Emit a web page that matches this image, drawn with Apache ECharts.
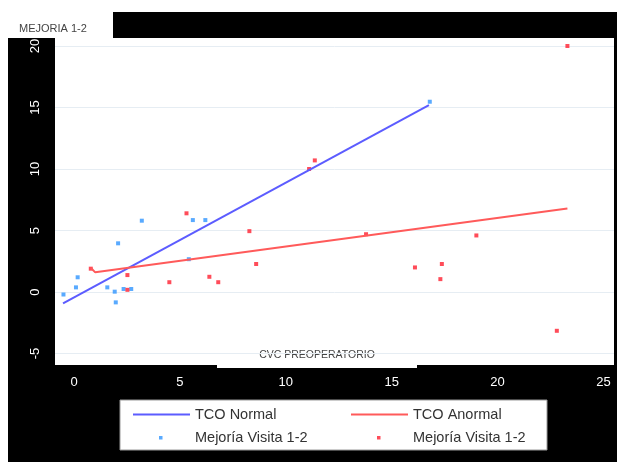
<!DOCTYPE html>
<html>
<head>
<meta charset="utf-8">
<script src="https://cdn.jsdelivr.net/npm/echarts@6/dist/echarts.min.js"></script>
<style>
  html, body { margin: 0; padding: 0; background: #fff; }
  #chart { width: 617px; height: 462px; }
</style>
</head>
<body>
<div id="chart"></div>
<script>
// puntos TCO normal (x = CVC preoperatorio, y = mejoria visita 1-2)
var normalPts = [
  [-0.5, -0.2], [0.17, 1.2], [0.09, 0.38], [1.57, 0.38], [1.92, 0.03],
  [1.97, -0.84], [2.08, 3.96], [2.34, 0.25], [2.7, 0.25], [3.2, 5.8],
  [5.42, 2.67], [5.61, 5.85], [6.2, 5.85], [16.8, 15.47]
];
// puntos TCO anormal
var anormalPts = [
  [0.79, 1.9], [2.52, 1.38], [2.52, 0.18], [4.5, 0.8], [5.31, 6.4],
  [6.39, 1.24], [6.81, 0.8], [8.28, 4.95], [8.6, 2.28], [11.1, 10.0],
  [11.37, 10.7], [13.79, 4.7], [16.1, 2.0], [17.3, 1.05], [17.37, 2.28],
  [19.0, 4.6], [22.8, -3.15], [23.3, 20.0]
];
// rectas de ajuste
var normalFit = [[-0.52, -0.92], [16.76, 15.2]];
var anormalFit = [[0.8, 1.95], [1.0, 1.6], [23.3, 6.8]];
var xTicks = [0, 5, 10, 15, 20, 25];
var yTicks = [-5, 0, 5, 10, 15, 20];

// iconos de leyenda: linea larga y punto pequeño dentro de una caja de 57x5
var lineIcon = 'path://M0,0M57,5M0,1.5h57v2h-57z';
var dotIcon = 'path://M0,0M57,5M26,1h3.5v3.5h-3.5z';

var chart = echarts.init(document.getElementById('chart'));

chart.setOption({
  backgroundColor: '#fff',
  animation: false,
  title: {
    text: 'MEJORIA 1-2',
    left: 14,
    top: 18,
    textStyle: { color: '#444', fontSize: 11, fontWeight: 'normal', fontFamily: 'Liberation Sans' }
  },
  graphic: [
    // fondo negro del marco
    { type: 'rect', z: -10, shape: { x: 8, y: 12, width: 609, height: 450 }, style: { fill: '#000' } },
    { type: 'rect', z: -9, shape: { x: 8, y: 12, width: 105, height: 26 }, style: { fill: '#fff' } },
    // caja del titulo del eje x
    {
      type: 'group', z: 50,
      children: [
        { type: 'rect', shape: { x: 217, y: 343, width: 200, height: 25 }, style: { fill: '#fff' } },
        { type: 'text', x: 317, y: 355, style: { text: 'CVC PREOPERATORIO', fill: '#444', fontSize: 10.5, fontFamily: 'Liberation Sans', align: 'center', verticalAlign: 'middle' } }
      ]
    },
    // caja de la leyenda
    { type: 'rect', z: 40, shape: { x: 120, y: 400, width: 427, height: 50 }, style: { fill: '#fff', stroke: '#999', lineWidth: 1 } }
  ],
  grid: {
    left: 55, right: 3, top: 38, bottom: 97,
    show: true, backgroundColor: '#fff', borderWidth: 0
  },
  legend: [
    {
      data: [{ name: 'TCO Normal', icon: lineIcon }, { name: 'Mejoría Visita 1-2', icon: dotIcon }],
      orient: 'vertical', left: 128, top: 402, z: 60,
      itemWidth: 57, itemHeight: 5, itemGap: 8,
      textStyle: { color: '#333', fontSize: 14.5, fontFamily: 'Liberation Sans' }
    },
    {
      data: [{ name: 'TCO Anormal', icon: lineIcon }, { name: 'Mejoría Visita 1-2 ', icon: dotIcon }],
      orient: 'vertical', left: 346, top: 402, z: 60,
      itemWidth: 57, itemHeight: 5, itemGap: 8,
      textStyle: { color: '#333', fontSize: 14.5, fontFamily: 'Liberation Sans' }
    }
  ],
  xAxis: {
    type: 'value',
    min: -0.9, max: 25.5,
    axisLine: { show: false },
    axisTick: { show: false, customValues: xTicks },
    splitLine: { show: false },
    axisLabel: {
      customValues: xTicks,
      color: '#fff', fontSize: 13, margin: 11, fontFamily: 'Liberation Sans'
    }
  },
  yAxis: {
    type: 'value',
    min: -5.93, max: 20.65,
    axisLine: { show: false },
    axisTick: { show: false, customValues: yTicks },
    splitLine: { show: true, lineStyle: { color: '#e6edf3', width: 1 } },
    axisLabel: {
      customValues: yTicks,
      rotate: 90,
      color: '#fff', fontSize: 13, margin: 13, fontFamily: 'Liberation Sans'
    }
  },
  series: [
    {
      name: 'TCO Normal', type: 'line', data: normalFit,
      symbol: 'none', clip: false,
      lineStyle: { color: '#5c5cff', width: 2 }, itemStyle: { color: '#5c5cff' }
    },
    {
      name: 'TCO Anormal', type: 'line', data: anormalFit,
      symbol: 'none', clip: false,
      lineStyle: { color: '#ff5a5a', width: 2 }, itemStyle: { color: '#ff5a5a' }
    },
    {
      name: 'Mejoría Visita 1-2', type: 'scatter', data: normalPts,
      symbol: 'rect', symbolSize: 4, clip: false,
      itemStyle: { color: '#2f95ff' }
    },
    {
      name: 'Mejoría Visita 1-2 ', type: 'scatter', data: anormalPts,
      symbol: 'rect', symbolSize: 4, clip: false,
      itemStyle: { color: '#ff1f2f' }
    }
  ]
});
</script>
</body>
</html>
